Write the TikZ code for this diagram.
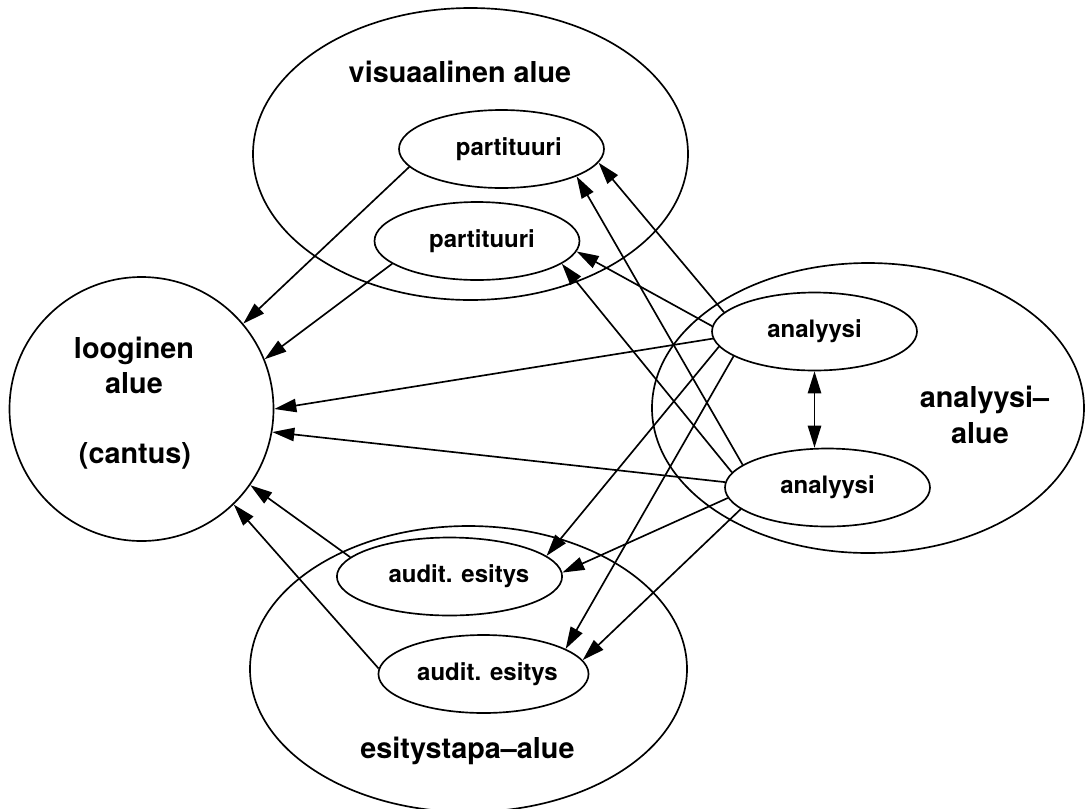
\documentclass[tikz,border=0pt]{standalone}
\usepackage{fontspec}
\setmainfont{TeX Gyre Heros}
\usetikzlibrary{shapes.geometric,arrows.meta}
\begin{document}
\begin{tikzpicture}[x=0.75pt,y=-0.75pt,
  region/.style={draw, ellipse, line width=1.25pt, inner sep=0pt},
  item/.style={draw, ellipse, line width=1.25pt, inner sep=0pt,
    minimum width=153.75pt, minimum height=58.5pt,
    font=\fontsize{18}{21}\selectfont\bfseries},
  biglabel/.style={font=\fontsize{21.6}{26}\selectfont\bfseries, anchor=base, inner sep=0pt},
  conn/.style={line width=1.25pt, -{Triangle[length=16.5pt,width=10pt]}},
  dconn/.style={line width=1.25pt, {Triangle[length=16.5pt,width=10pt]}-{Triangle[length=16.5pt,width=10pt]}},
]
\useasboundingbox (0,0) rectangle (1086,808);
\fill[white] (0,0) rectangle (1086,808);

% regions
\node[region, minimum width=326.25pt, minimum height=219pt] (V) at (470.5,154) {};
\node[region, circle, minimum size=198pt] (L) at (141.5,409) {};
\node[region, minimum width=324pt, minimum height=217.5pt] (A) at (868,408) {};
\node[region, minimum width=327.75pt, minimum height=214.5pt] (E) at (468.5,669) {};

% region labels
\node[biglabel] (Vt) at (460,82) {visuaalinen alue};
\node[biglabel] (Lt1) at (134,358) {looginen};
\node[biglabel] (Lt2) at (134,393) {alue};
\node[biglabel] (Lt3) at (135,463) {(cantus)};
\node[biglabel] (At1) at (984.5,407) {analyysi–};
\node[biglabel] (At2) at (980,443) {alue};
\node[biglabel] (Et) at (467.5,758) {esitystapa–alue};

% items
\node[item] (p1) at (501.5,149) {\hspace*{11pt}partituuri};
\node[item] (p2) at (477,241) {\hspace*{7.5pt}partituuri};
\node[item] (a1) at (814.5,331.5) {analyysi};
\node[item] (a2) at (827.5,487.5) {analyysi};
\node[item] (au1) at (449.5,576.5) {\hspace*{14pt}audit. esitys};
\node[item] (au2) at (483.5,674) {\hspace*{6pt}audit. esitys};

% connectors
\draw[conn] (p1.191.7) -- (L.40.5);
\draw[conn] (p2.195.8) -- (L.22.2);
\draw[conn] (a1.168.7) -- (p1.-8.7);
\draw[conn] (a2.165.1) -- (p1.-20.2);
\draw[conn] (a1.177.5) -- (p2.-6);
\draw[conn] (a2.171.6) -- (p2.-15.3);
\draw[conn] (a1.184.3) -- (L.0.3);
\draw[conn] (a2.177.5) -- (L.-10.7);
\draw[conn] (a1.189.7) -- (au1.12.3);
\draw[conn] (a1.197.9) -- (au2.17.8);
\draw[conn] (a2.186) -- (au1.2);
\draw[conn] (a2.194.4) -- (au2.8.1);
\draw[conn] (au1.169.5) -- (L.-35.5);
\draw[conn] (au2.177.7) -- (L.-46.9);
\draw[dconn] (a1.south) -- (a1.south |- a2.north);
\end{tikzpicture}
\end{document}
